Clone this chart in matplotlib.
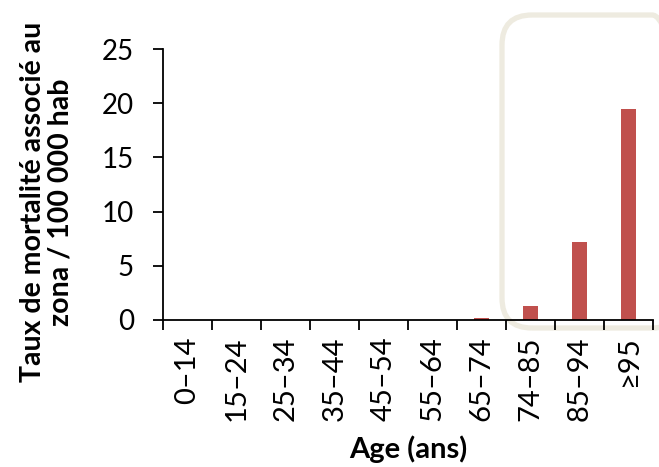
import numpy as np
import matplotlib
matplotlib.use("Agg")
import matplotlib.pyplot as plt
from matplotlib.patches import FancyBboxPatch
from matplotlib.transforms import IdentityTransform

plt.rcParams['font.family'] = ['Lato', 'DejaVu Sans']

age_groups = ["0\u201314", "15\u201324", "25\u201334", "35\u201344", "45\u201354",
              "55\u201364", "65\u201374", "74\u201385", "85\u201394", "\u226595"]
mortality = [0, 0, 0, 0, 0, 0, 0.2, 1.3, 7.2, 19.5]

bar_color = "#C0504D"
box_color = "#EEEBE0"

fig = plt.figure(figsize=(6.59, 4.67), dpi=100)
ax = fig.add_axes([0.2473, 0.3148, 0.7437, 0.5802])
ax.set_facecolor("none")

x = np.arange(len(age_groups))
ax.bar(x + 0.5, mortality, width=0.31, color=bar_color, zorder=2)

ax.set_xlim(0, len(age_groups))
ax.set_ylim(0, 25)
ax.set_yticks([0, 5, 10, 15, 20, 25])

# ticks on category boundaries, labels centred in each category
ax.set_xticks(np.arange(len(age_groups) + 1))
ax.set_xticklabels([])
ax.set_xticks(x + 0.5, minor=True)
ax.set_xticklabels(age_groups, minor=True, rotation=90, fontsize=21)
ax.tick_params(axis='x', which='minor', length=0, pad=12)
ax.tick_params(axis='x', which='major', length=7, width=1.3, direction='out')
ax.tick_params(axis='y', length=7, width=1.3, labelsize=20, pad=14)

for side in ['top', 'right']:
    ax.spines[side].set_visible(False)
for side in ['left', 'bottom']:
    ax.spines[side].set_linewidth(1.3)

fig.text(47 / 659, 1 - 202 / 467, "Taux de mortalité associé au\nzona / 100 000 hab",
         rotation=90, ha='center', va='center', multialignment='center',
         fontsize=20.5, fontweight='bold', linespacing=1.05)
ax.set_xlabel("Age (ans)", fontsize=21, fontweight='bold', labelpad=10)

# highlight frame around the oldest age groups
frame = FancyBboxPatch((502, 139), 180, 313,
                       boxstyle="round,pad=0,rounding_size=30",
                       transform=IdentityTransform(), fill=False,
                       edgecolor=box_color, linewidth=3.8, zorder=-1)
fig.patches.append(frame)

fig.savefig("out.png", dpi=100)
